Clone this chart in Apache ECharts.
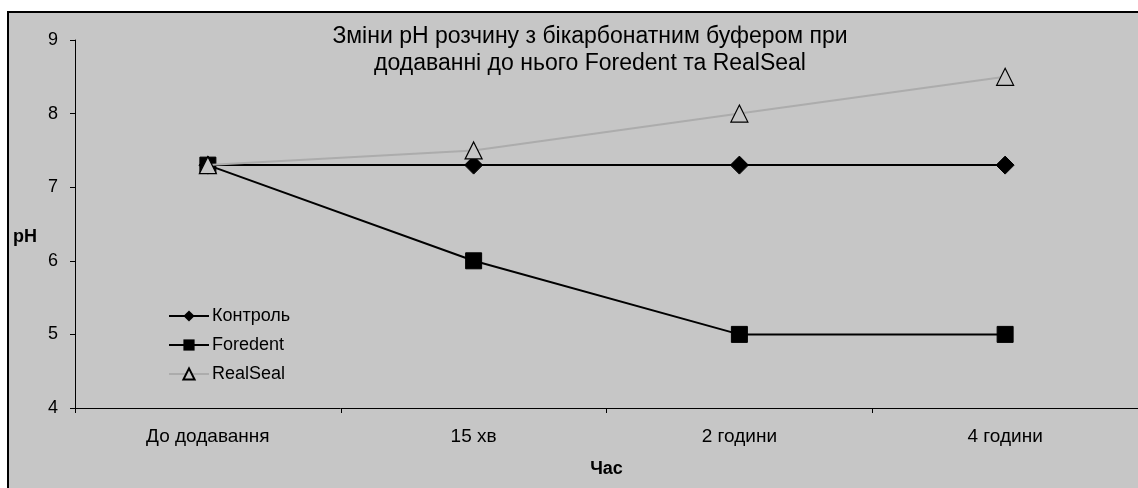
<!DOCTYPE html>
<html>
<head>
<meta charset="utf-8">
<script src="https://cdn.jsdelivr.net/npm/echarts@6/dist/echarts.min.js"></script>
<style>
  html, body { margin: 0; padding: 0; background: #fff; }
  #chart { width: 1138px; height: 488px; }
</style>
</head>
<body>
<div id="chart"></div>
<script>
var categories = ['До додавання', '15 хв', '2 години', '4 години'];
var kontrol = [7.3, 7.3, 7.3, 7.3];
var foredent = [7.3, 6, 5, 5];
var realseal = [7.3, 7.5, 8, 8.5];

var dom = document.getElementById('chart');
var myChart = echarts.init(dom);
var font = 'Liberation Sans, Arial, sans-serif';

var option = {
  backgroundColor: '#fff',
  animation: false,
  textStyle: { fontFamily: font },
  graphic: [
    {
      type: 'rect',
      z: -10,
      shape: { x: 8, y: 12, width: 1140, height: 490 },
      style: { fill: '#c6c6c6', stroke: '#000', lineWidth: 2 }
    }
  ],
  title: {
    text: 'Зміни pH розчину з бікарбонатним буфером при\nдодаванні до нього Foredent та RealSeal',
    left: 585,
    top: 18,
    textAlign: 'center',
    textStyle: { fontSize: 23, fontWeight: 'normal', color: '#000', lineHeight: 27, fontFamily: font }
  },
  legend: {
    orient: 'vertical',
    left: 163,
    top: 302,
    itemGap: 11,
    itemWidth: 40,
    itemHeight: 14,
    textStyle: { fontSize: 18, color: '#000', fontFamily: font, padding: [0, 0, 0, -2] },
    data: ['Контроль', 'Foredent', 'RealSeal']
  },
  grid: { left: 75, top: 40, width: 1067, height: 368 },
  xAxis: {
    type: 'category',
    data: categories,
    name: 'Час',
    nameLocation: 'middle',
    nameGap: 52,
    nameTextStyle: { fontSize: 18, fontWeight: 'bold', color: '#000' },
    axisLine: { lineStyle: { color: '#000', width: 1 } },
    axisTick: { show: true, alignWithLabel: false, length: 5, lineStyle: { color: '#000' } },
    axisLabel: { fontSize: 19, color: '#000', margin: 19 },
    splitLine: { show: false }
  },
  yAxis: {
    type: 'value',
    min: 4,
    max: 9,
    interval: 1,
    name: 'pH',
    nameLocation: 'middle',
    nameRotate: 0,
    nameGap: 38,
    nameTextStyle: { fontSize: 18, fontWeight: 'bold', color: '#000', verticalAlign: 'top', padding: [4, 0, 0, 0] },
    axisLine: { show: true, lineStyle: { color: '#000', width: 1 } },
    axisTick: { show: true, length: 5, lineStyle: { color: '#000' } },
    axisLabel: { fontSize: 18, color: '#000', margin: 17 },
    splitLine: { show: false }
  },
  series: [
    {
      name: 'Контроль',
      type: 'line',
      data: kontrol,
      symbol: 'diamond',
      symbolSize: 18,
      lineStyle: { color: '#000', width: 2 },
      itemStyle: { color: '#000', borderColor: '#000' },
      z: 3
    },
    {
      name: 'Foredent',
      type: 'line',
      data: foredent,
      symbol: 'rect',
      symbolSize: 16,
      lineStyle: { color: '#000', width: 2 },
      itemStyle: { color: '#000', borderColor: '#000' },
      z: 2
    },
    {
      name: 'RealSeal',
      type: 'line',
      data: realseal,
      symbol: 'triangle',
      symbolSize: 17,
      lineStyle: { color: '#acacac', width: 2 },
      itemStyle: { color: '#c6c6c6', borderColor: '#000', borderWidth: 1.2 },
      z: 4
    }
  ]
};

if (option && typeof option === 'object') {
  myChart.setOption(option, true);
}
</script>
</body>
</html>
